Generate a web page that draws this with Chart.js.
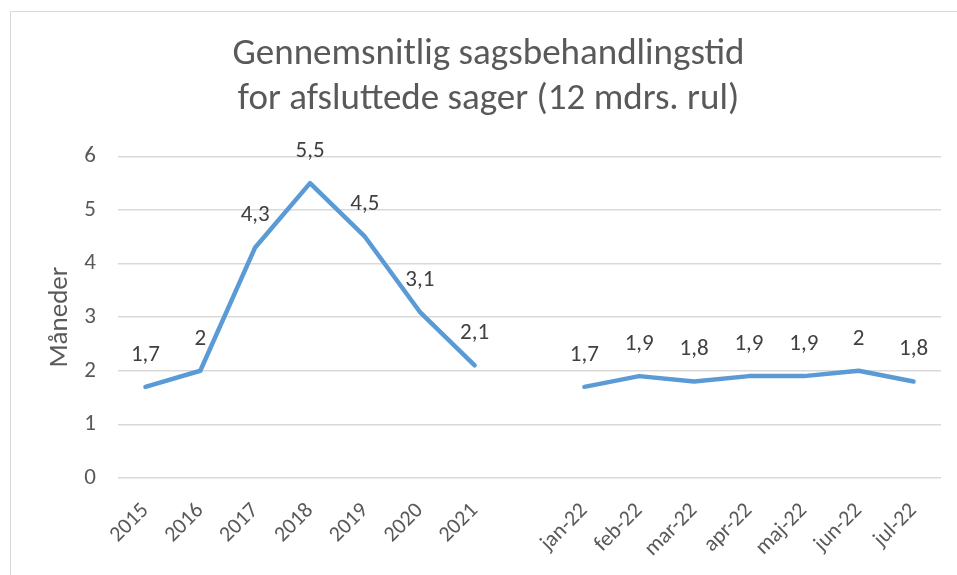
<!DOCTYPE html>
<html>
<head>
<meta charset="utf-8">
<script src="https://cdn.jsdelivr.net/npm/chart.js@4/dist/chart.umd.min.js"></script>
<style>
  html, body { margin: 0; padding: 0; background: #fff; }
  #wrap { position: relative; width: 957px; height: 575px; overflow: hidden; }
  #frame { position: absolute; left: 10px; top: 11px; width: 980px; height: 620px; border: 1px solid #d9d9d9; box-sizing: border-box; }
  canvas { position: absolute; left: 0; top: 0; }
</style>
</head>
<body>
<div id="wrap">
  <div id="frame"></div>
  <canvas id="c" width="957" height="575"></canvas>
</div>
<script>
const categories = ["2015","2016","2017","2018","2019","2020","2021","","jan-22","feb-22","mar-22","apr-22","maj-22","jun-22","jul-22"];
const values = [1.7, 2, 4.3, 5.5, 4.5, 3.1, 2.1, null, 1.7, 1.9, 1.8, 1.9, 1.9, 2, 1.8];
const titleLines = ["Gennemsnitlig sagsbehandlingstid", "for afsluttede sager (12 mdrs. rul)"];
const yAxisTitle = "Måneder";
const yMin = 0, yMax = 6, yStep = 1;

const FONT = "Carlito, 'Open Sans', sans-serif";

const labelPlugin = {
  id: 'pointLabels',
  afterDatasetsDraw(chart) {
    const ctx = chart.ctx;
    const meta = chart.getDatasetMeta(0);
    ctx.save();
    ctx.font = "23px " + FONT;
    ctx.fillStyle = "#404040";
    ctx.textAlign = "center";
    ctx.textBaseline = "middle";
    meta.data.forEach((pt, i) => {
      const v = values[i];
      if (v === null || v === undefined) return;
      ctx.fillText(String(v).replace('.', ','), pt.x, pt.y - 32);
    });
    ctx.restore();
  }
};

new Chart(document.getElementById('c'), {
  type: 'line',
  data: {
    labels: categories,
    datasets: [{
      data: values,
      borderColor: '#5b9bd5',
      borderWidth: 4.5,
      pointRadius: 0,
      pointHoverRadius: 0,
      tension: 0,
      spanGaps: false,
      borderCapStyle: 'round',
      borderJoinStyle: 'round',
      fill: false
    }]
  },
  options: {
    responsive: false,
    animation: false,
    events: [],
    layout: { padding: { left: 36, right: 16, top: 0, bottom: 0 } },
    plugins: {
      legend: { display: false },
      tooltip: { enabled: false },
      title: {
        display: true,
        text: titleLines,
        color: '#595959',
        font: { family: FONT, size: 37, weight: 'normal', lineHeight: 1.22 },
        padding: { top: 32, bottom: 34 }
      }
    },
    scales: {
      x: {
        offset: true,
        grid: { display: false, drawTicks: false },
        border: { display: false },
        ticks: {
          color: '#595959',
          font: { family: FONT, size: 22 },
          minRotation: 45,
          maxRotation: 45,
          autoSkip: false,
          padding: 20
        },
        afterFit(scale) { scale.height = 97; }
      },
      y: {
        min: yMin, max: yMax,
        grid: { color: '#d9d9d9', lineWidth: 1.5, drawTicks: false },
        border: { display: false },
        ticks: {
          stepSize: yStep,
          color: '#595959',
          font: { family: FONT, size: 23 },
          padding: 22
        },
        title: {
          display: true,
          text: yAxisTitle,
          color: '#595959',
          font: { family: FONT, size: 27 },
          padding: { top: 8, bottom: 0 }
        },
        afterFit(scale) { scale.width = 82; }
      }
    }
  },
  plugins: [labelPlugin]
});
</script>
</body>
</html>
